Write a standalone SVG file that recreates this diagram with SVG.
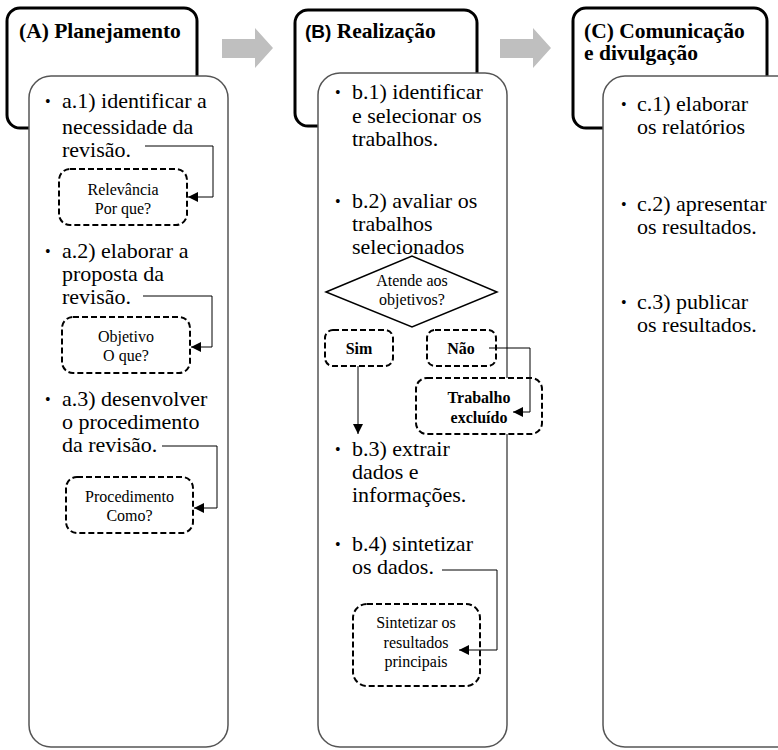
<svg xmlns="http://www.w3.org/2000/svg" width="778" height="750" viewBox="0 0 778 750" font-family="Liberation Serif, DejaVu Serif, serif">
  <defs>
    <marker id="arrow" viewBox="0 0 10 10" refX="10" refY="5" markerWidth="10" markerHeight="10" markerUnits="userSpaceOnUse" orient="auto">
      <path d="M0,0 L10,5 L0,10 z" fill="#000"/>
    </marker>
    <style>
      .head { fill: #fff; stroke: #000; stroke-width: 3; }
      .body { fill: #fff; stroke: #555; stroke-width: 1.5; }
      .dash { fill: #fff; stroke: #000; stroke-width: 2; stroke-dasharray: 6 3; }
      .flow { fill: #bfbfbf; stroke: none; }
      .title { font-family: 'Liberation Serif', 'DejaVu Serif', serif; font-weight: bold; font-size: 21.5px; fill: #000; }
      .sans { font-family: 'Liberation Sans', 'DejaVu Sans', sans-serif; font-weight: bold; }
      .item { font-family: 'Liberation Serif', 'DejaVu Serif', serif; font-size: 22px; fill: #000; }
      .bullet { font-family: 'Liberation Serif', 'DejaVu Serif', serif; font-size: 16px; fill: #000; }
      .note { font-family: 'Liberation Serif', 'DejaVu Serif', serif; font-size: 16px; fill: #000; text-anchor: middle; }
      .noteb { font-family: 'Liberation Serif', 'DejaVu Serif', serif; font-size: 16px; font-weight: bold; fill: #000; text-anchor: middle; }
      .link { fill: none; stroke: #000; stroke-width: 1; }
    </style>
  </defs>

  <rect width="778" height="750" fill="#fff"/>

  <!-- phase flow arrows -->
  <g id="flow-arrows">
    <path class="flow" d="M222,39 H255 V28 L273,48 L255,68 V58 H222 z"/>
    <path class="flow" d="M500,39 H533 V28 L551,48 L533,68 V58 H500 z"/>
  </g>

  <!-- Phase A -->
  <g id="phase-a">
    <rect class="head" x="7" y="8" width="190" height="120" rx="13"/>
    <text class="title" x="19" y="38">(A) Planejamento</text>
    <rect class="body" x="29" y="76" width="199" height="671" rx="22"/>
    <text class="bullet" x="45" y="107">•</text>
    <text class="item" x="62" y="108">a.1) identificar a</text>
    <text class="item" x="62" y="134">necessidade da</text>
    <text class="item" x="62" y="157">revisão.</text>
    <text class="bullet" x="45" y="257">•</text>
    <text class="item" x="62" y="258">a.2) elaborar a</text>
    <text class="item" x="62" y="281">proposta da</text>
    <text class="item" x="62" y="304">revisão.</text>
    <text class="bullet" x="45" y="405">•</text>
    <text class="item" x="62" y="406">a.3) desenvolver</text>
    <text class="item" x="62" y="429">o procedimento</text>
    <text class="item" x="62" y="452">da revisão.</text>
  </g>
  <g id="relevancia">
    <rect class="dash" x="59" y="169" width="128" height="56" rx="11"/>
    <text class="note" x="123" y="195">Relevância</text>
    <text class="note" x="123" y="214">Por que?</text>
  </g>
  <g id="objetivo">
    <rect class="dash" x="62" y="317" width="128" height="56" rx="11"/>
    <text class="note" x="126" y="342">Objetivo</text>
    <text class="note" x="126" y="361">O que?</text>
  </g>
  <g id="procedimento">
    <rect class="dash" x="66" y="477" width="127" height="56" rx="11"/>
    <text class="note" x="129.5" y="502">Procedimento</text>
    <text class="note" x="129.5" y="521">Como?</text>
  </g>

  <!-- Phase B -->
  <g id="phase-b">
    <rect class="head" x="295" y="10" width="182" height="116" rx="13"/>
    <text class="title" x="305" y="38"><tspan class="sans" font-size="19">(B)</tspan> Realização</text>
    <rect class="body" x="318" y="73" width="189" height="674" rx="22"/>
    <text class="bullet" x="335" y="98">•</text>
    <text class="item" x="352" y="99">b.1) identificar</text>
    <text class="item" x="352" y="123">e selecionar os</text>
    <text class="item" x="352" y="146">trabalhos.</text>
    <text class="bullet" x="335" y="207">•</text>
    <text class="item" x="352" y="208">b.2) avaliar os</text>
    <text class="item" x="352" y="231">trabalhos</text>
    <text class="item" x="352" y="254">selecionados</text>
    <text class="bullet" x="335" y="455">•</text>
    <text class="item" x="352" y="456">b.3) extrair</text>
    <text class="item" x="352" y="479">dados e</text>
    <text class="item" x="352" y="502">informações.</text>
    <text class="bullet" x="335" y="550">•</text>
    <text class="item" x="352" y="551">b.4) sintetizar</text>
    <text class="item" x="352" y="574">os dados.</text>
  </g>
  <g id="decisao">
    <path d="M326,292 L412,256 L497,292 L412,327 z" fill="#fff" stroke="#000" stroke-width="1.5"/>
    <text class="note" x="412" y="286">Atende aos</text>
    <text class="note" x="412" y="305">objetivos?</text>
  </g>
  <g id="sim">
    <rect class="dash" x="325" y="330" width="68" height="36" rx="8"/>
    <text class="noteb" x="359" y="354">Sim</text>
  </g>
  <g id="nao">
    <rect class="dash" x="427" y="330" width="69" height="36" rx="8"/>
    <text class="noteb" x="461" y="354">Não</text>
  </g>
  <g id="trabalho-excluido">
    <rect class="dash" x="416" y="378" width="126" height="56" rx="11"/>
    <text class="noteb" x="479" y="403">Trabalho</text>
    <text class="noteb" x="479" y="423">excluído</text>
  </g>
  <g id="sintetizar">
    <rect class="dash" x="353" y="604" width="127" height="82" rx="14"/>
    <text class="note" x="416" y="628">Sintetizar os</text>
    <text class="note" x="416" y="648">resultados</text>
    <text class="note" x="416" y="667">principais</text>
  </g>

  <!-- Phase C -->
  <g id="phase-c">
    <rect class="head" x="573" y="8" width="194" height="120" rx="13"/>
    <text class="title" x="584" y="38">(C) Comunicação</text>
    <text class="title" x="584" y="60">e divulgação</text>
    <rect class="body" x="603" y="76" width="210" height="671" rx="22"/>
    <text class="bullet" x="621" y="110">•</text>
    <text class="item" x="637" y="111">c.1) elaborar</text>
    <text class="item" x="637" y="134">os relatórios</text>
    <text class="bullet" x="621" y="210">•</text>
    <text class="item" x="637" y="211">c.2) apresentar</text>
    <text class="item" x="637" y="234">os resultados.</text>
    <text class="bullet" x="621" y="308">•</text>
    <text class="item" x="637" y="309">c.3) publicar</text>
    <text class="item" x="637" y="332">os resultados.</text>
  </g>

  <!-- connectors -->
  <g id="connectors">
    <path class="link" d="M145,146 H213 V197 H188" marker-end="url(#arrow)"/>
    <path class="link" d="M143,296 H212 V347 H191" marker-end="url(#arrow)"/>
    <path class="link" d="M162,446 H217 V508 H194" marker-end="url(#arrow)"/>
    <path class="link" d="M358,366 V434" marker-end="url(#arrow)"/>
    <path class="link" d="M489,348 H530 V412 H513" marker-end="url(#arrow)"/>
    <path class="link" d="M442,570 H497 V650 H459" marker-end="url(#arrow)"/>
  </g>
</svg>
